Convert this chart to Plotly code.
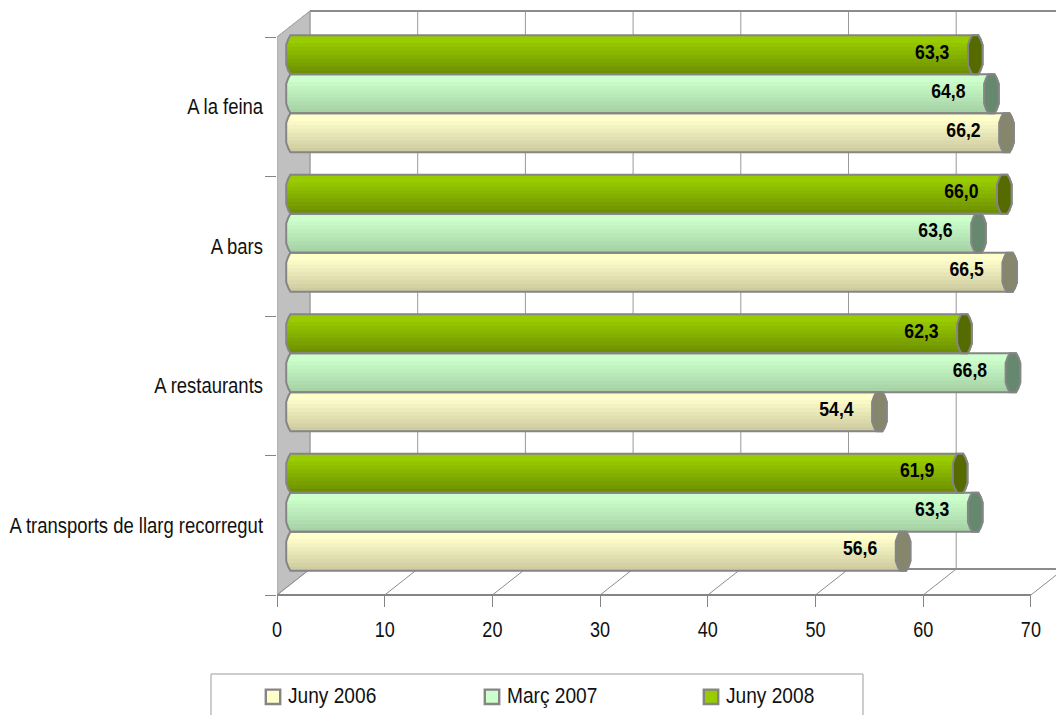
import numpy as np
import plotly.graph_objects as go

categories = ["A la feina", "A bars", "A restaurants", "A transports de llarg recorregut"]
series_names = ["Juny 2006", "Març 2007", "Juny 2008"]
juny_2006 = [66.2, 66.5, 54.4, 56.6]
marc_2007 = [64.8, 63.6, 66.8, 63.3]
juny_2008 = [63.3, 66.0, 62.3, 61.9]
x_ticks = [0, 10, 20, 30, 40, 50, 60, 70]

FONT = "Liberation Sans, Arial, sans-serif"
GREY = "#858585"
PX_X = 10.77       # pixels per x unit
PX_Y = 139.5       # pixels per category band
L, R, T, B = 277, 1056, 9, 595
W, H = 1056, 715
DEPTH_X = 33 / PX_X
DEPTH_Y = 26 / PX_Y
MID_X = DEPTH_X / 2
MID_Y = DEPTH_Y / 2
BAR_H = 39 / PX_Y
CAP = 7.3 / PX_X
NB = 10

styles = [
    (juny_2006, "#FFFFCC", "#CFCBA0", "#86866C"),
    (marc_2007, "#CCFFCC", "#A6D2A6", "#66886E"),
    (juny_2008, "#99CC00", "#6E9000", "#556B00"),
]


def hex2rgb(h):
    return np.array([int(h[i:i + 2], 16) for i in (1, 3, 5)], float)


def mix(a, b, t):
    c = hex2rgb(a) * (1 - t) + hex2rgb(b) * t
    return "rgb(%d,%d,%d)" % tuple(c.round())


def profile(t):
    return CAP * np.interp(abs(t), [0, 0.5, 0.8, 1], [1, 1, 0.72, 0.42])


fig = go.Figure()
shapes = []


def line(x0, y0, x1, y1, color=GREY, width=1, xref="x", yref="y", layer="below"):
    shapes.append(dict(type="line", x0=x0, y0=y0, x1=x1, y1=y1, xref=xref, yref=yref,
                       layer=layer, line=dict(color=color, width=width)))


ny = len(categories)
top = -DEPTH_Y
floor = ny - DEPTH_Y
# left wall
shapes.append(dict(type="path", layer="below", xref="x", yref="y",
                   path=f"M0,0 L{DEPTH_X},{top} L{DEPTH_X},{floor} L0,{ny} Z",
                   fillcolor="#C0C0C0", line=dict(color="#A6A6A6", width=1)))
# back wall grid and floor lines
for v in x_ticks:
    line(v + DEPTH_X, top, v + DEPTH_X, floor, "#999999", 1)
    line(v, ny, v + DEPTH_X, floor, "#8C8C8C", 1)
line(DEPTH_X, top, R, top, "#8C8C8C", 2)
line(DEPTH_X, floor, R, floor, "#8C8C8C", 2)
line(0, 0, DEPTH_X, top, "#A6A6A6", 1)
# front axis line
line(0, 0, x_ticks[-1], 0, GREY, 2, yref="paper", layer="above")

# cylinders: a stack of thin bars gives the stepped shading
centers = [i + 0.5 - MID_Y for i in range(ny)]
row_shift = {0: BAR_H, 1: 0.0, 2: -BAR_H}
t_edges = np.linspace(-1, 1, NB + 1)
t_mid = (t_edges[:-1] + t_edges[1:]) / 2

for s, (vals, c_top, c_bot, c_cap) in enumerate(styles):
    ys = [c + row_shift[s] for c in centers]
    for k in range(NB):
        base = MID_X - profile(t_mid[k])
        frac = max(0, (k - 1) / (NB - 2))
        fig.add_trace(go.Bar(
            x=[v + MID_X - base for v in vals], y=ys, base=base, orientation="h",
            width=BAR_H / NB + (1 / PX_Y if k < NB - 1 else 0), offset=-BAR_H / 2 + k * BAR_H / NB,
            marker=dict(color=mix(c_top, c_bot, frac), line=dict(width=0)),
            showlegend=False, hoverinfo="skip", cliponaxis=False))
    ts = np.array([-1, -0.8, -0.5, 0.5, 0.8, 1])
    for v, y in zip(vals, ys):
        ends = [(v + MID_X + profile(t), y + t * BAR_H / 2) for t in ts]
        capl = [(v + MID_X - profile(t), y + t * BAR_H / 2) for t in ts[::-1]]
        left = [(MID_X - profile(t), y + t * BAR_H / 2) for t in ts[::-1]]
        body = ends + left
        shapes.append(dict(type="path", layer="above", xref="x", yref="y",
                           path="M" + " L".join(f"{a},{b}" for a, b in body) + " Z",
                           line=dict(color=GREY, width=2)))
        shapes.append(dict(type="path", layer="above", xref="x", yref="y",
                           path="M" + " L".join(f"{a},{b}" for a, b in ends + capl) + " Z",
                           fillcolor=c_cap, line=dict(color=GREY, width=2)))
    fig.add_trace(go.Scatter(
        x=[v + MID_X - 43 / PX_X for v in vals], y=[y - 1 / PX_Y for y in ys],
        mode="text", text=[f"{v:.1f}".replace(".", ",") for v in vals],
        textposition="middle center",
        textfont=dict(family=FONT, size=20, color="#000000", weight="bold"),
        showlegend=False, hoverinfo="skip", cliponaxis=False))

# legend keys
for name, (_, c_top, _, _) in zip(series_names, styles):
    fig.add_trace(go.Bar(x=[None], y=[None], name=name, orientation="h",
                         marker=dict(color=c_top, line=dict(color=GREY, width=2))))

# legend box, open at the foot of the page
pw, ph = R - L, B - T
fx = lambda p: (p - L) / pw
fy = lambda p: (B - p) / ph
for (a, b, c, d) in [(211, 674, 863, 674), (211, 674, 211, 716), (863, 674, 863, 716)]:
    line(fx(a), fy(b), fx(c), fy(d), "#BDBDBD", 1.5, xref="paper", yref="paper", layer="above")

fig.update_layout(
    width=W, height=H, autosize=False, barmode="overlay",
    margin=dict(l=L, r=W - R, t=T, b=H - B, pad=0, autoexpand=False),
    paper_bgcolor="white", plot_bgcolor="white", shapes=shapes,
    font=dict(family=FONT, size=22, color="#111111"),
    legend=dict(orientation="h", x=fx(253), y=fy(676), xanchor="left", yanchor="top",
                entrywidth=174, entrywidthmode="pixels", itemclick=False, itemdoubleclick=False,
                font=dict(family=FONT, size=22, color="#111111"), bgcolor="rgba(0,0,0,0)"),
    xaxis=dict(range=[0, pw / PX_X], tickmode="array", tickvals=x_ticks, ticktext=[str(t) for t in x_ticks],
               showgrid=False, zeroline=False, showline=False, ticks="outside", ticklen=11,
               tickwidth=1, tickcolor=GREY, ticklabelstandoff=4, tickfont=dict(family=FONT, size=22, color="#111111")),
    yaxis=dict(range=[ny, (T - 37) / PX_Y], tickmode="array", tickvals=[i + 0.5 for i in range(ny)],
               ticktext=categories, showgrid=False, zeroline=False, showline=False, ticks="",
               ticklabelstandoff=13, tickfont=dict(family=FONT, size=22, color="#111111"),
               minor=dict(tickmode="array", tickvals=list(range(ny + 1)), ticks="outside", ticklen=11,
                          tickwidth=1, tickcolor=GREY, showgrid=False)),
)

# The reference type is a narrow face; none is installed, so the text is condensed in place.
post = """
document.body.style.margin='0';document.body.style.overflow='hidden';
(function(){
 var gd=document.getElementById('{plot_id}');
 function squeeze(sel,s,anchor,dx,dy){
  gd.querySelectorAll(sel).forEach(function(t){
   if(t.dataset.sq)return; t.dataset.sq='1';
   var b=t.getBBox();
   var c=anchor==='l'?b.x:(anchor==='r'?b.x+b.width:b.x+b.width/2);
   var old=t.getAttribute('transform')||'';
   t.setAttribute('transform',old+' translate('+(c+dx)+','+dy+') scale('+s+',1) translate('+(-c)+',0)');
  });
 }
 function run(){
  squeeze('.xtick text',0.82,'c',0,0);
  squeeze('.ytick text',0.84,'r',0,0);
  squeeze('.textpoint text',0.88,'c',0,0);
  squeeze('.legendtext',0.87,'l',-5,-2);
  gd.querySelectorAll('.legendpoints path').forEach(function(p){
   if(p.dataset.sq)return; p.dataset.sq='1';
   p.setAttribute('transform',(p.getAttribute('transform')||'')+' scale(1.2)');
  });
 }
 run(); setTimeout(run,50); gd.on('plotly_afterplot',run);
})();
"""
fig.write_html("out.html", include_plotlyjs=True, post_script=post,
               config=dict(displayModeBar=False))
